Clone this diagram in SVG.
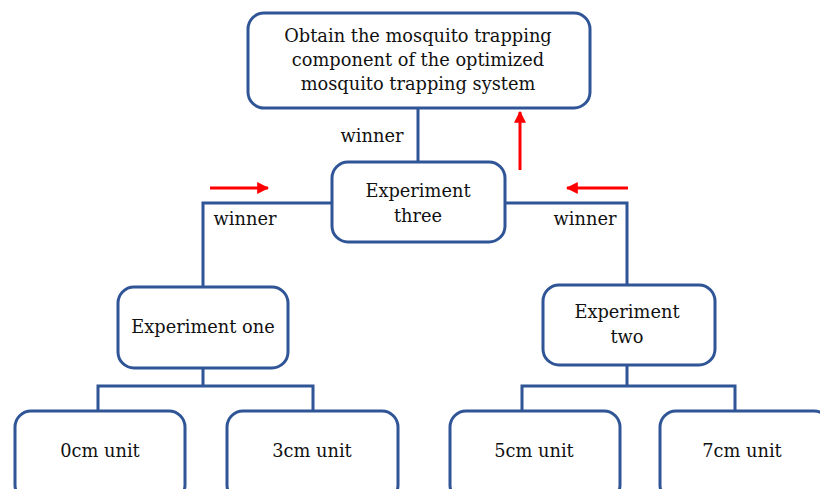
<svg xmlns="http://www.w3.org/2000/svg" width="820" height="489" viewBox="0 0 820 489">
<defs>
<style>
.box{fill:#fff;stroke:#2F5597;stroke-width:3}
.ln{fill:none;stroke:#2F5597;stroke-width:3}
.red{fill:none;stroke:#FF0000;stroke-width:3}
text{font-family:"DejaVu Serif","Liberation Serif",serif;font-size:17.8px;fill:#111;text-anchor:middle}
</style>
<marker id="ah" viewBox="0 0 10 10" refX="9" refY="5" markerWidth="4" markerHeight="4" orient="auto" markerUnits="strokeWidth">
<path d="M0,0 L10,5 L0,10 z" fill="#FF0000"/>
</marker>
</defs>
<rect width="820" height="489" fill="#fff"/>
<g id="connectors">
<path class="ln" d="M418,108 V162"/>
<path class="ln" d="M332,203 H203 V287"/>
<path class="ln" d="M505,203 H627 V285"/>
<path class="ln" d="M203,368 V386 M98,410 V386 H313 V410"/>
<path class="ln" d="M627,365 V386 M522,410 V386 H735 V410"/>
<path class="red" d="M210,188 H268" marker-end="url(#ah)"/>
<path class="red" d="M628,188 H567" marker-end="url(#ah)"/>
<path class="red" d="M520,170 V112" marker-end="url(#ah)"/>
<text x="372" y="142">winner</text>
<text x="245" y="225">winner</text>
<text x="585" y="225">winner</text>
</g>
<g id="top">
<rect class="box" x="248" y="13" width="342" height="95" rx="16"/>
<text x="418" y="42">Obtain the mosquito trapping</text>
<text x="418" y="66">component of the optimized</text>
<text x="418" y="90">mosquito trapping system</text>
</g>
<g id="exp3">
<rect class="box" x="332" y="162" width="173" height="80" rx="16"/>
<text x="418" y="197">Experiment</text>
<text x="418" y="222">three</text>
</g>
<g id="exp1">
<rect class="box" x="118" y="287" width="170" height="81" rx="16"/>
<text x="203" y="333">Experiment one</text>
</g>
<g id="exp2">
<rect class="box" x="543" y="285" width="172" height="80" rx="16"/>
<text x="627" y="318">Experiment</text>
<text x="627" y="343">two</text>
</g>
<g id="u0">
<rect class="box" x="15" y="411" width="170" height="90" rx="16"/>
<text x="100" y="457">0cm unit</text>
</g>
<g id="u3">
<rect class="box" x="227" y="411" width="171" height="90" rx="16"/>
<text x="312" y="457">3cm unit</text>
</g>
<g id="u5">
<rect class="box" x="450" y="411" width="170" height="90" rx="16"/>
<text x="534" y="457">5cm unit</text>
</g>
<g id="u7">
<rect class="box" x="660" y="411" width="170" height="90" rx="16"/>
<text x="742" y="457">7cm unit</text>
</g>
</svg>
